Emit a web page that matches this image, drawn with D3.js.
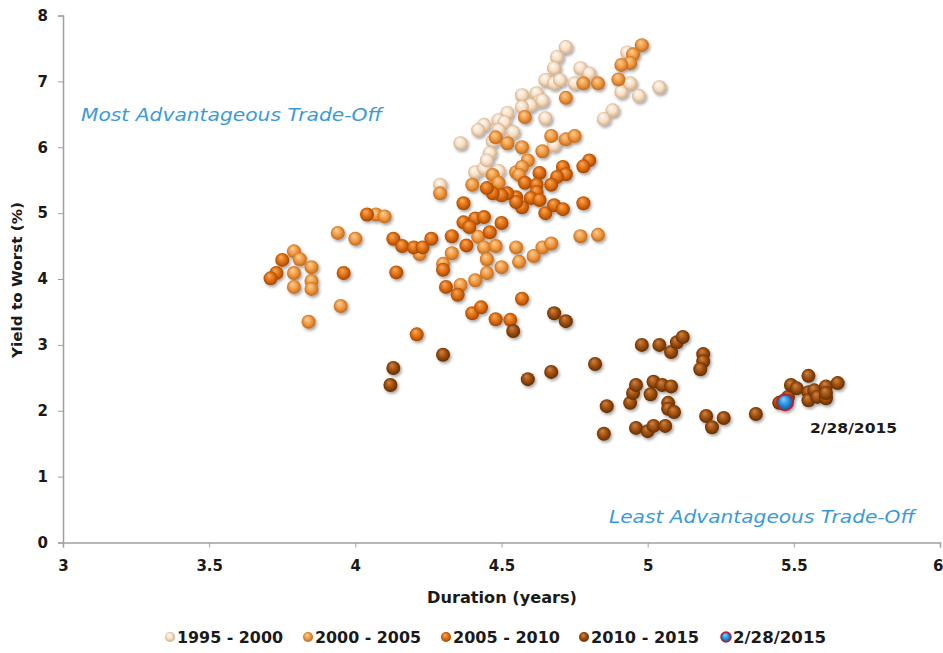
<!DOCTYPE html>
<html>
<head>
<meta charset="utf-8">
<script src="https://cdn.jsdelivr.net/npm/d3@7"></script>
<style>
  html, body { margin: 0; padding: 0; background: #fff; }
  svg { display: block; }
  text { font-family: "DejaVu Sans", sans-serif; }
</style>
</head>
<body>
<svg id="chart" width="943" height="653"></svg>
<script>
// ---------------- DATA ----------------
const seriesNames = ["1995 - 2000", "2000 - 2005", "2005 - 2010", "2010 - 2015", "2/28/2015"];

// [duration (years), yield to worst (%)]
const s1995_2000 = [
  [4.72,7.52],[4.69,7.37],[4.68,7.20],[4.65,7.02],[4.68,6.97],[4.70,7.02],[4.77,7.20],[4.80,7.12],
  [4.75,6.97],[4.91,6.84],[4.94,6.97],[4.97,6.78],[5.04,6.91],[4.88,6.56],[4.85,6.43],[4.93,7.44],
  [4.57,6.79],[4.62,6.82],[4.63,6.70],[4.60,6.64],[4.57,6.61],[4.52,6.52],[4.49,6.41],[4.51,6.38],
  [4.44,6.34],[4.42,6.26],[4.49,6.26],[4.54,6.23],[4.65,6.44],[4.47,6.09],[4.36,6.06],[4.46,5.91],
  [4.41,5.62],[4.44,5.68],[4.49,5.64],[4.29,5.43],[4.68,6.03],[4.64,6.71],[4.45,5.80]
];
const s2000_2005 = [
  [4.98,7.55],[4.95,7.41],[4.94,7.28],[4.91,7.25],[4.90,7.03],[4.78,6.97],[4.83,6.97],[4.72,6.75],
  [4.58,6.46],[4.48,6.15],[4.52,6.06],[4.57,6.00],[4.64,5.94],[4.67,6.17],[4.72,6.12],[4.75,6.17],
  [4.59,5.80],[4.55,5.62],[4.47,5.58],[4.40,5.43],[4.29,5.30],[4.49,5.46],[4.57,5.70],[4.56,5.58],
  [3.94,4.70],[4.00,4.61],[3.79,4.42],[3.81,4.30],[3.85,4.18],[3.79,4.09],[3.85,3.97],[3.85,3.85],
  [3.79,3.88],[3.95,3.59],[3.84,3.35],[4.07,4.98],[4.10,4.95],[4.22,4.38],[4.30,4.23],[4.33,4.39],
  [4.42,4.64],[4.44,4.48],[4.48,4.50],[4.45,4.30],[4.45,4.09],[4.50,4.18],[4.41,3.98],[4.36,3.91],
  [4.55,4.48],[4.56,4.26],[4.61,4.35],[4.64,4.48],[4.67,4.54],[4.77,4.65],[4.83,4.67]
];
const s2005_2010 = [
  [4.04,4.98],[4.13,4.61],[4.16,4.50],[4.20,4.48],[4.23,4.48],[4.26,4.61],[4.14,4.10],[3.96,4.09],
  [3.75,4.29],[3.73,4.09],[3.71,4.01],[4.30,4.14],[4.31,3.88],[4.35,3.76],[4.21,3.16],[4.37,5.15],
  [4.37,4.86],[4.41,4.92],[4.44,4.94],[4.39,4.79],[4.46,4.71],[4.50,4.85],[4.33,4.65],[4.38,4.51],
  [4.40,3.48],[4.43,3.57],[4.48,3.39],[4.53,3.38],[4.57,3.70],[4.78,5.15],[4.65,5.00],[4.80,5.80],
  [4.78,5.71],[4.71,5.70],[4.72,5.59],[4.69,5.55],[4.67,5.43],[4.63,5.61],[4.58,5.46],[4.62,5.43],
  [4.62,5.32],[4.55,5.24],[4.60,5.23],[4.63,5.20],[4.57,5.09],[4.55,5.17],[4.52,5.30],[4.50,5.27],
  [4.47,5.30],[4.45,5.38],[4.68,5.12],[4.71,5.06]
];
const s2010_2015 = [
  [4.54,3.21],[4.68,3.48],[4.72,3.36],[4.30,2.85],[4.13,2.65],[4.12,2.39],[4.59,2.48],[4.67,2.59],
  [4.82,2.71],[4.98,3.00],[5.04,3.00],[5.08,2.89],[5.10,3.04],[5.12,3.12],[5.19,2.86],[5.19,2.75],
  [5.18,2.63],[4.86,2.07],[4.94,2.12],[4.95,2.27],[4.96,2.39],[5.01,2.25],[5.02,2.44],[5.05,2.39],
  [5.08,2.37],[5.07,2.12],[5.07,2.03],[5.09,1.98],[4.85,1.65],[4.96,1.74],[5.00,1.69],[5.02,1.77],
  [5.06,1.77],[5.20,1.92],[5.22,1.75],[5.26,1.89],[5.37,1.95],[5.45,2.12],[5.48,2.21],[5.49,2.39],
  [5.51,2.34],[5.55,2.53],[5.55,2.28],[5.55,2.16],[5.57,2.31],[5.58,2.21],[5.61,2.19],[5.61,2.37],
  [5.61,2.27],[5.65,2.42]
];
const sLatest = [[5.47,2.13]];
const latestLabel = "2/28/2015";

const xTicks = [3, 3.5, 4, 4.5, 5, 5.5, 6];
const yTicks = [0, 1, 2, 3, 4, 5, 6, 7, 8];
const xTitle = "Duration (years)";
const yTitle = "Yield to Worst (%)";
const noteTop = "Most Advantageous Trade-Off";
const noteBottom = "Least Advantageous Trade-Off";

// ---------------- CHART ----------------
const svg = d3.select("#chart");
const W = 943, H = 653;
const m = { left: 63, right: 3, top: 15.5, bottom: 110.5 };

const x = d3.scaleLinear().domain([3, 6]).range([m.left, W - m.right]);
const y = d3.scaleLinear().domain([0, 8]).range([H - m.bottom, m.top]);

const palettes = [
  { hi: "#fffbf5", mid: "#f6dec4", lo: "#c9a27c" },
  { hi: "#fcd39a", mid: "#f0983f", lo: "#b76015" },
  { hi: "#f8ad62", mid: "#e06c0c", lo: "#944002" },
  { hi: "#d08549", mid: "#9c4c0a", lo: "#5a2902" },
  { hi: "#8fd2ff", mid: "#1f8fe0", lo: "#0c4f96" }
];

const defs = svg.append("defs");
palettes.forEach((p, i) => {
  const g = defs.append("radialGradient")
    .attr("id", "ball" + i)
    .attr("cx", "50%").attr("cy", "50%").attr("r", "55%")
    .attr("fx", "38%").attr("fy", "28%");
  g.append("stop").attr("offset", "0%").attr("stop-color", p.hi);
  g.append("stop").attr("offset", "55%").attr("stop-color", p.mid);
  g.append("stop").attr("offset", "100%").attr("stop-color", p.lo);
});
const f = defs.append("filter").attr("id", "shadow")
  .attr("x", "-50%").attr("y", "-50%").attr("width", "220%").attr("height", "220%");
f.append("feDropShadow").attr("dx", 1.5).attr("dy", 2).attr("stdDeviation", 1.4)
  .attr("flood-color", "#000").attr("flood-opacity", 0.35);

// axes
const axisColor = "#a0a0a0";
const xAxis = svg.append("g")
  .attr("transform", `translate(0,${y(0)})`)
  .call(d3.axisBottom(x).tickValues(xTicks).tickSize(5).tickPadding(13)
    .tickFormat(d => d3.format("")(d)));
const yAxis = svg.append("g")
  .attr("transform", `translate(${x(3)},0)`)
  .call(d3.axisLeft(y).tickValues(yTicks).tickSize(5).tickPadding(10));
[xAxis, yAxis].forEach(a => {
  a.selectAll("path.domain").attr("stroke", axisColor).attr("stroke-width", 1.5);
  a.selectAll(".tick line").attr("stroke", axisColor).attr("stroke-width", 1);
  a.selectAll(".tick text")
    .attr("fill", "#1a1a1a")
    .style("font-family", "'DejaVu Sans', sans-serif")
    .style("font-weight", "bold")
    .style("font-size", "15px");
});
// keep the last x label inside the page
xAxis.selectAll(".tick text").filter(d => d === 6)
  .attr("text-anchor", "end").attr("x", 3);

// axis titles
svg.append("text")
  .attr("x", 502).attr("y", 603)
  .attr("text-anchor", "middle")
  .attr("textLength", 150).attr("lengthAdjust", "spacingAndGlyphs")
  .style("font-weight", "bold").style("font-size", "15px").attr("fill", "#1a1a1a")
  .text(xTitle);
svg.append("text")
  .attr("transform", `translate(22,280) rotate(-90)`)
  .attr("text-anchor", "middle")
  .attr("textLength", 156).attr("lengthAdjust", "spacingAndGlyphs")
  .style("font-weight", "bold").style("font-size", "14px").attr("fill", "#1a1a1a")
  .text(yTitle);

// annotations
svg.append("text")
  .attr("x", 81).attr("y", 121)
  .attr("textLength", 301).attr("lengthAdjust", "spacingAndGlyphs")
  .style("font-style", "italic").style("font-size", "18px").attr("fill", "#3a9ad9")
  .text(noteTop);
svg.append("text")
  .attr("x", 609).attr("y", 523)
  .attr("textLength", 306).attr("lengthAdjust", "spacingAndGlyphs")
  .style("font-style", "italic").style("font-size", "18px").attr("fill", "#3a9ad9")
  .text(noteBottom);

// points
const allSeries = [s1995_2000, s2000_2005, s2005_2010, s2010_2015];
const R = 7;
const pts = svg.append("g").attr("filter", "url(#shadow)");
allSeries.forEach((data, i) => {
  pts.append("g").selectAll("circle")
    .data(data).join("circle")
    .attr("cx", d => x(d[0])).attr("cy", d => y(d[1]))
    .attr("r", R)
    .attr("fill", `url(#ball${i})`);
});
pts.append("g").selectAll("circle")
  .data(sLatest).join("circle")
  .attr("cx", d => x(d[0])).attr("cy", d => y(d[1]))
  .attr("r", 8)
  .attr("fill", "url(#ball4)")
  .attr("stroke", "#b8202e").attr("stroke-width", 2);

svg.append("text")
  .attr("x", x(sLatest[0][0]) + 25).attr("y", y(sLatest[0][1]) + 31)
  .attr("textLength", 87).attr("lengthAdjust", "spacingAndGlyphs")
  .style("font-weight", "bold").style("font-size", "14px").attr("fill", "#1a1a1a")
  .text(latestLabel);

// legend
const legendX = [170, 308, 446, 584, 726];
const legendW = [106, 106, 107, 108, 93];
const lg = svg.append("g").attr("transform", "translate(0,637)");
seriesNames.forEach((name, i) => {
  const g = lg.append("g").attr("transform", `translate(${legendX[i]},0)`);
  g.append("circle").attr("r", 5)
    .attr("fill", `url(#ball${i})`)
    .attr("stroke", i === 4 ? "#b8202e" : "none").attr("stroke-width", 1.5);
  g.append("text").attr("x", 7).attr("y", 5.5)
    .attr("textLength", legendW[i]).attr("lengthAdjust", "spacingAndGlyphs")
    .style("font-weight", "bold").style("font-size", "15px").attr("fill", "#1a1a1a")
    .text(name);
});
</script>
</body>
</html>
